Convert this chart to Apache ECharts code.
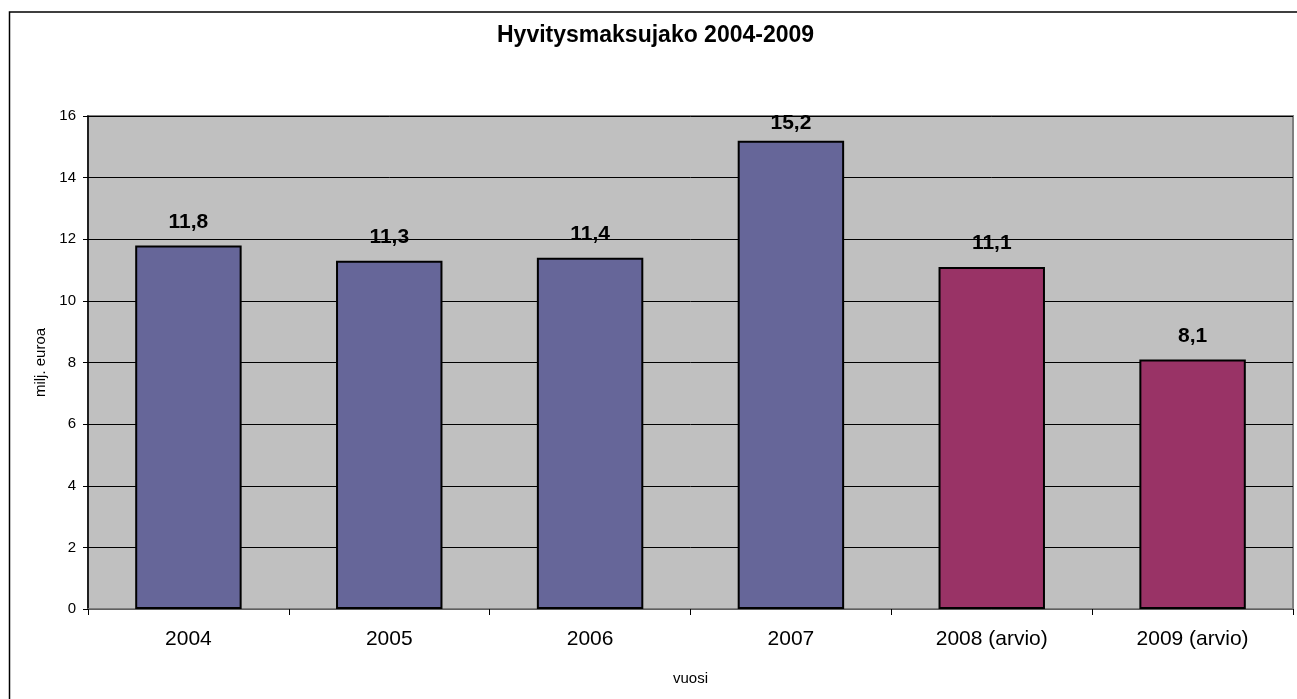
<!DOCTYPE html>
<html>
<head>
<meta charset="utf-8">
<script src="https://cdn.jsdelivr.net/npm/echarts@6/dist/echarts.min.js"></script>
<style>
html,body{margin:0;padding:0;background:#fff;}
#chart{width:1297px;height:699px;}
</style>
</head>
<body>
<div id="chart"></div>
<script>
const categories = ['2004', '2005', '2006', '2007', '2008 (arvio)', '2009 (arvio)'];
const values = [11.8, 11.3, 11.4, 15.2, 11.1, 8.1];
const estimated = [false, false, false, false, true, true];
const yTicks = [0, 2, 4, 6, 8, 10, 12, 14, 16];

const FONT = '"Liberation Sans", Arial, sans-serif';
const yMax = yTicks[yTicks.length - 1];
const chart = echarts.init(document.getElementById('chart'), null, {renderer: 'canvas'});
chart.setOption({
  animation: false,
  backgroundColor: '#ffffff',
  title: {
    text: 'Hyvitysmaksujako 2004-2009',
    left: 497,
    top: 24,
    padding: 0,
    textStyle: {fontFamily: FONT, fontSize: 23, fontWeight: 'bold', color: '#000'}
  },
  graphic: [{
    type: 'rect',
    shape: {x: 9.5, y: 12, width: 1300, height: 700},
    style: {fill: 'none', stroke: '#000', lineWidth: 1.5},
    silent: true,
    z: 0
  }],
  grid: {
    left: 88, top: 116, right: 4, bottom: 90,
    show: true,
    backgroundColor: '#C0C0C0',
    borderColor: '#808080',
    borderWidth: 2
  },
  xAxis: {
    type: 'category',
    data: categories,
    name: 'vuosi',
    nameLocation: 'middle',
    nameGap: 62,
    nameTextStyle: {fontFamily: FONT, fontSize: 15, color: '#000'},
    axisLine: {show: true, lineStyle: {color: '#808080', width: 1.5}},
    axisTick: {show: true, alignWithLabel: false, length: 6, inside: false, lineStyle: {color: '#000'}},
    axisLabel: {fontFamily: FONT, fontSize: 21, color: '#000', margin: 20},
    splitLine: {show: false}
  },
  yAxis: {
    type: 'value',
    min: yTicks[0],
    max: yMax,
    interval: 2,
    name: 'milj. euroa',
    nameLocation: 'middle',
    nameGap: 38,
    nameRotate: 90,
    nameTextStyle: {fontFamily: FONT, fontSize: 15, color: '#000'},
    axisLine: {show: true, lineStyle: {color: '#000', width: 1.5}},
    axisTick: {show: true, length: 5, lineStyle: {color: '#000'}},
    axisLabel: {fontFamily: FONT, fontSize: 15, color: '#000', margin: 12},
    splitLine: {show: true, lineStyle: {color: '#000', width: 1}}
  },
  series: [{
    type: 'bar',
    barCategoryGap: '47%',
    data: values.map((v, i) => ({
      value: v,
      itemStyle: {color: estimated[i] ? '#993366' : '#666699', borderColor: '#000', borderWidth: 2},
      label: (yMax - v) < 1.5 ? {distance: 7} : undefined
    })),
    label: {
      show: true,
      position: 'top',
      distance: 13,
      fontFamily: FONT,
      fontSize: 21,
      fontWeight: 'bold',
      color: '#000',
      formatter: p => p.value.toFixed(1).replace('.', ',')
    }
  }]
});
</script>
</body>
</html>
